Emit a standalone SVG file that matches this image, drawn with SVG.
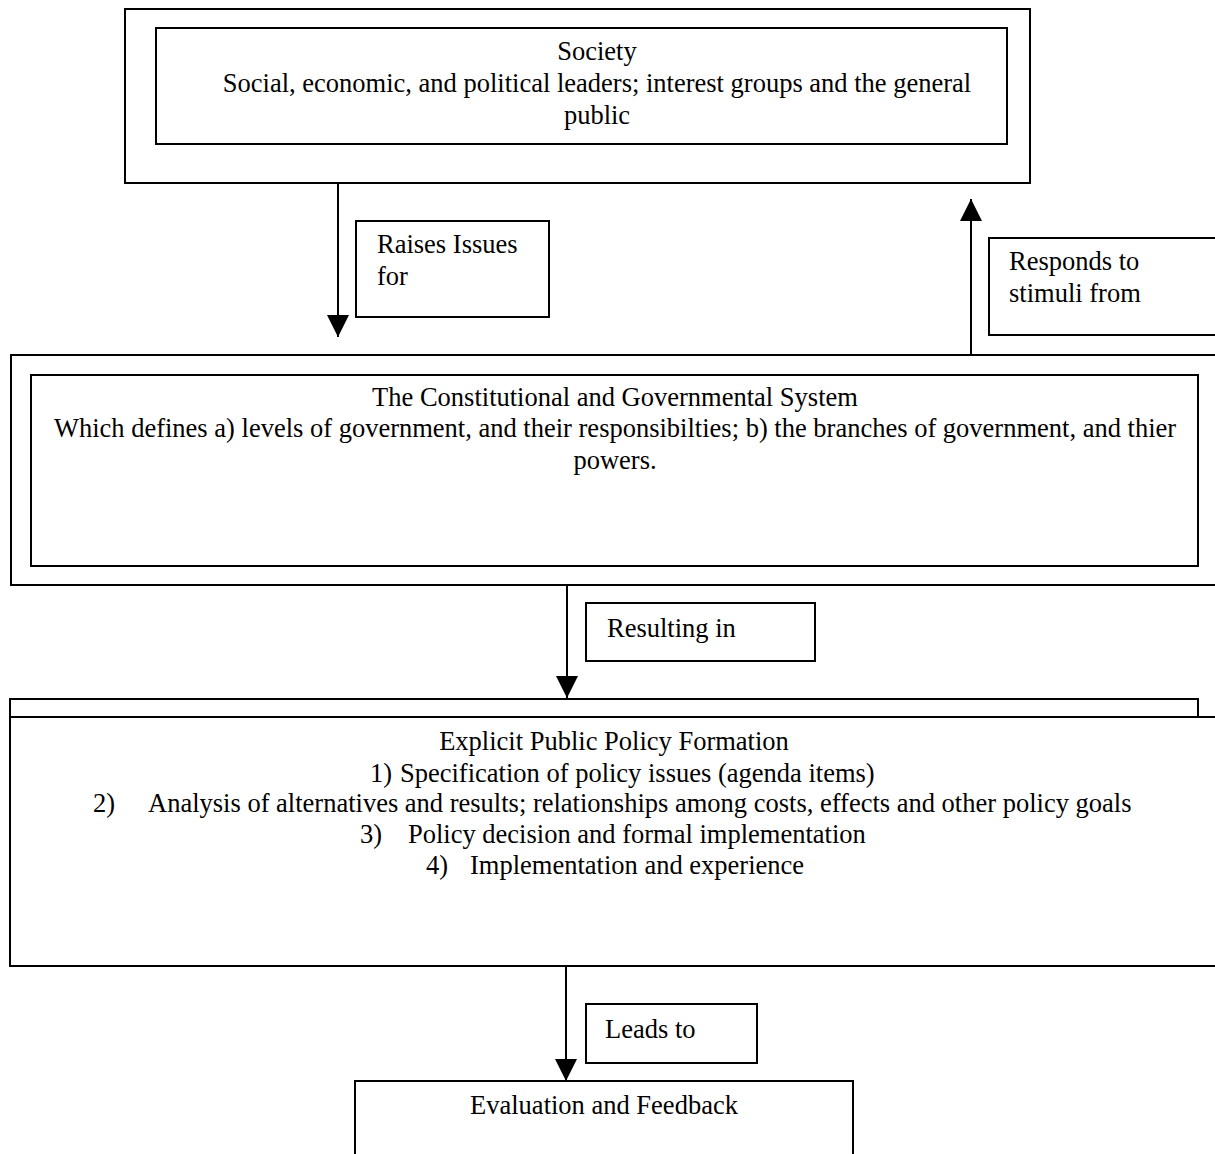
<svg xmlns="http://www.w3.org/2000/svg" width="1215" height="1154" viewBox="0 0 1215 1154">
<style>
.box{fill:none;stroke:#000;stroke-width:2}
.t{font-family:"Liberation Serif","Times New Roman",serif;font-size:26.5px;fill:#000}
.c{text-anchor:middle}
.ln{stroke:#000;stroke-width:2;fill:none}
</style>
<defs>
<marker id="ah" markerWidth="22" markerHeight="22" viewBox="0 0 22 22" refX="22" refY="11" orient="auto" markerUnits="userSpaceOnUse">
<path d="M0,0 L22,11 L0,22 Z" fill="#000"/>
</marker>
</defs>
<rect width="1215" height="1154" fill="#fff"/>
<g id="society">
<rect class="box" x="125" y="9" width="905" height="174"/>
<rect class="box" x="156" y="28" width="851" height="116"/>
<text class="t c" x="597" y="60">Society</text>
<text class="t c" x="597" y="92">Social, economic, and political leaders; interest groups and the general</text>
<text class="t c" x="597" y="124">public</text>
</g>
<g id="system">
<rect class="box" x="11" y="355" width="1230" height="230"/>
<rect class="box" x="31" y="375" width="1167" height="191"/>
<text class="t c" x="615" y="406">The Constitutional and Governmental System</text>
<text class="t c" x="615" y="437">Which defines a) levels of government, and their responsibilties; b) the branches of government, and thier</text>
<text class="t c" x="615" y="469">powers.</text>
</g>
<g id="policy">
<rect class="box" x="10" y="699" width="1188" height="18"/>
<rect class="box" x="10" y="717" width="1230" height="249"/>
<text class="t c" x="614" y="750">Explicit Public Policy Formation</text>
<text class="t" x="370" y="782">1)</text>
<text class="t" x="400" y="782">Specification of policy issues (agenda items)</text>
<text class="t" x="93" y="812">2)</text>
<text class="t" x="148" y="812">Analysis of alternatives and results; relationships among costs, effects and other policy goals</text>
<text class="t" x="360" y="843">3)</text>
<text class="t" x="408" y="843">Policy decision and formal implementation</text>
<text class="t" x="426" y="874">4)</text>
<text class="t" x="470" y="874">Implementation and experience</text>
</g>
<g id="evaluation">
<rect class="box" x="355" y="1081" width="498" height="100"/>
<text class="t c" x="604" y="1114">Evaluation and Feedback</text>
</g>
<g id="label-raises">
<rect class="box" x="356" y="221" width="193" height="96"/>
<text class="t" x="377" y="253">Raises Issues</text>
<text class="t" x="377" y="285">for</text>
</g>
<g id="label-responds">
<rect class="box" x="989" y="238" width="240" height="97"/>
<text class="t" x="1009" y="270">Responds to</text>
<text class="t" x="1009" y="302">stimuli from</text>
</g>
<g id="label-resulting">
<rect class="box" x="586" y="603" width="229" height="58"/>
<text class="t" x="607" y="637">Resulting in</text>
</g>
<g id="label-leads">
<rect class="box" x="586" y="1004" width="171" height="59"/>
<text class="t" x="605" y="1038">Leads to</text>
</g>
<g id="connectors">
<line class="ln" x1="338" y1="183" x2="338" y2="337" marker-end="url(#ah)"/>
<line class="ln" x1="971" y1="354" x2="971" y2="199" marker-end="url(#ah)"/>
<line class="ln" x1="567" y1="585" x2="567" y2="698" marker-end="url(#ah)"/>
<line class="ln" x1="566" y1="966" x2="566" y2="1081" marker-end="url(#ah)"/>
</g>
</svg>
